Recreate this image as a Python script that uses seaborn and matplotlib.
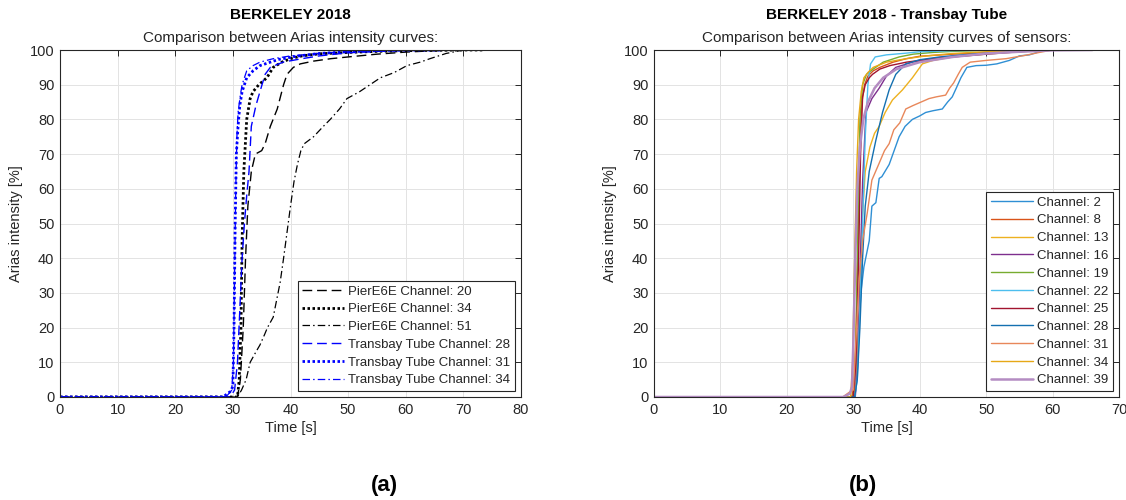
import pandas as pd
import matplotlib.pyplot as plt
import seaborn as sns

# ---------------- data ----------------
# (a) PierE6E vs Transbay Tube
pier20_t = [0, 30.8, 31.3, 31.8, 32.2, 32.6, 33.2, 33.9, 35.0, 35.6, 36.5, 37.7, 38.8, 39.4, 40.5, 41.7, 44, 47, 50, 55, 60, 65, 70]
pier20_p = [0, 0, 5, 20, 40, 55, 65, 70, 71, 73, 78, 83, 90, 93, 95, 96, 96.8, 97.5, 98, 98.8, 99.4, 99.8, 100]

pier34_t = [0, 30.8, 31.1, 31.4, 31.6, 31.9, 32.4, 33.0, 33.5, 34.5, 35.9, 37.0, 38.5, 40, 42, 45, 50, 55, 60, 65, 70, 73.4]
pier34_p = [0, 0, 5, 20, 45, 65, 80, 86, 88, 90, 92, 95, 96.5, 97.5, 98.3, 98.9, 99.3, 99.6, 99.8, 99.9, 100, 100]

pier51_t = [0, 30.8, 31.5, 32.3, 33.0, 34.0, 34.7, 35.5, 36.0, 37.0, 37.6, 38.2, 38.8, 39.2, 39.6, 40.0, 40.6,
            41.2, 41.8, 42.4, 44.0, 45.7, 46.9, 48.5, 49.8, 52.0, 53.8, 55.6, 58, 60.2, 62.5, 64.2, 67, 70]
pier51_p = [0, 0, 2, 5, 10, 13, 15, 18, 20, 23, 28, 33, 40, 45, 50, 55, 62,
            67, 71, 73, 75, 78, 80, 83, 86, 88, 90, 92, 93.5, 95.5, 96.5, 97.5, 99, 100]

tube28_t = [0, 29.5, 30.3, 30.8, 31.2, 31.6, 32.0, 32.4, 32.8, 33.2, 34.0, 34.7, 35.6, 36.5, 38.7, 42, 45, 50, 55, 60, 66]
tube28_p = [0, 0, 2, 10, 25, 40, 50, 58, 65, 78, 84, 88, 93, 95, 96.5, 97.5, 98.3, 99.2, 99.6, 99.9, 100]

tube31_t = [0, 28.3, 29.5, 30.0, 30.2, 30.4, 30.6, 30.9, 31.2, 31.6, 32.4, 33.5, 34.7, 36.5, 38.0, 41, 45, 50, 55, 60, 66]
tube31_p = [0, 0, 1.5, 3, 20, 50, 70, 78, 84, 88, 92, 94, 95.5, 96.5, 97.3, 98.2, 99, 99.5, 99.8, 100, 100]

tube34_t = [0, 28.8, 29.8, 30.1, 30.3, 30.5, 30.7, 30.9, 31.3, 31.6, 32.4, 33.5, 34.7, 37, 40, 45, 50, 55, 60, 65]
tube34_p = [0, 0, 2, 10, 35, 60, 75, 82, 87, 90, 94, 95.5, 96.5, 97.5, 98.3, 99, 99.5, 99.8, 100, 100]

left_labels = ["PierE6E Channel: 20", "PierE6E Channel: 34", "PierE6E Channel: 51",
               "Transbay Tube Channel: 28", "Transbay Tube Channel: 31", "Transbay Tube Channel: 34"]

# (b) Transbay Tube sensors
ch2_t = [0, 29.5, 30.0, 30.3, 30.6, 31.2, 31.6, 32.4, 32.8, 33.4, 33.9, 34.3, 35.4, 36.9, 37.8, 38.9, 40.0, 40.9,
         42.0, 43.4, 44.2, 44.9, 45.5, 46.2, 47.1, 48.5, 50.0, 51.6, 53.5, 55.0, 56.5, 57.5, 58.7, 62, 66]
ch2_p = [0, 0, 0.5, 1, 14, 31, 37.5, 45, 55, 56, 63, 63.5, 67, 75, 78, 80, 81, 82,
         82.5, 83, 85, 86.5, 89, 92, 95, 95.5, 95.6, 96, 97, 98.3, 98.6, 99.2, 100, 100, 100]

ch8_t = [0, 29.8, 30.2, 30.5, 30.8, 31.0, 31.3, 31.7, 32.2, 33, 34, 36, 38, 40, 45, 50, 55, 60, 63]
ch8_p = [0, 0, 5, 25, 55, 75, 85, 90, 92.5, 94, 95, 96.5, 97.5, 98.2, 98.8, 99.3, 99.7, 100, 100]

ch13_t = [0, 30.0, 30.5, 30.9, 31.3, 31.8, 32.5, 33.2, 33.9, 34.8, 35.9, 37.4, 38.9, 40.4, 42, 45, 50, 55, 60, 64]
ch13_p = [0, 0, 5, 25, 50, 65, 72, 76, 78, 82, 85.6, 88.5, 92, 96, 97, 98, 98.8, 99.5, 100, 100]

ch16_t = [0, 30.3, 30.7, 31.0, 31.4, 31.9, 32.8, 33.9, 35.0, 36.4, 38.9, 42, 45, 50, 55, 60, 64]
ch16_p = [0, 0, 10, 35, 62, 82, 86, 89, 92.5, 95, 96.5, 97.3, 98, 98.8, 99.5, 100, 100]

ch19_t = [0, 30.0, 30.4, 30.7, 31.0, 31.4, 32.0, 33.0, 34.5, 36.9, 39, 42, 45, 50, 55, 62]
ch19_p = [0, 0, 15, 50, 80, 90, 93, 94.5, 96.5, 98, 98.8, 99.3, 99.6, 99.9, 100, 100]

ch22_t = [0, 30.2, 30.6, 31.0, 31.4, 31.8, 32.2, 32.6, 33.3, 35, 38, 40, 45, 50, 55]
ch22_p = [0, 0, 5, 25, 50, 75, 90, 96, 98, 98.6, 99.1, 99.5, 99.8, 100, 100]

ch25_t = [0, 30.0, 30.4, 30.8, 31.1, 31.4, 31.8, 32.4, 32.9, 34, 35.5, 38, 40, 43, 47, 50, 55, 60, 65]
ch25_p = [0, 0, 10, 40, 70, 86.5, 90, 92, 93, 94.5, 95.5, 96.5, 97, 97.8, 98.5, 99, 99.6, 100, 100]

ch28_t = [0, 30.2, 30.6, 31.0, 31.4, 31.8, 32.4, 33.4, 34.4, 35.4, 36.4, 37.9, 40, 43, 47, 50, 55, 60, 65]
ch28_p = [0, 0, 5, 20, 40, 55, 65, 74, 82, 88.5, 93, 96, 97.2, 98, 98.7, 99.2, 99.6, 100, 100]

ch31_t = [0, 28.4, 29.5, 30.0, 30.5, 30.9, 31.4, 32.1, 32.8, 33.9, 34.7, 35.4, 36.1, 37.0, 37.9, 39.0, 40.2,
          41.4, 42.5, 43.9, 44.5, 45.1, 45.8, 46.4, 47.6, 50, 53, 56, 58, 60, 64]
ch31_p = [0, 0, 1.5, 2, 20, 34, 45, 53, 62.5, 67.4, 71, 73, 77, 79, 83, 84, 85,
          86, 86.5, 87, 89, 90.5, 93, 95, 96.5, 97, 97.5, 98.5, 99.3, 100, 100]

ch34_t = [0, 29.6, 29.9, 30.2, 30.5, 30.8, 31.2, 31.6, 32.2, 33, 35, 38, 41, 45, 50, 55, 60, 64]
ch34_p = [0, 0, 10, 40, 65, 80, 88, 92, 93.5, 95, 96.5, 97.5, 98.3, 99, 99.5, 99.8, 100, 100]

ch39_t = [0, 28.5, 29.5, 29.8, 30.0, 30.3, 30.6, 31.0, 31.5, 32.2, 33.2, 34.5, 36.5, 40, 45, 50, 55, 60, 66]
ch39_p = [0, 0, 1, 3, 15, 40, 60, 72, 80, 85, 89, 92, 94.5, 96.5, 98, 99, 99.5, 99.9, 100]

right_channels = [2, 8, 13, 16, 19, 22, 25, 28, 31, 34, 39]

# ---------------- style ----------------
sns.set_theme(style="whitegrid")
plt.rcParams.update({
    "axes.edgecolor": "#262626",
    "axes.linewidth": 0.8,
    "grid.color": "#e3e3e3",
    "grid.linewidth": 0.7,
    "xtick.direction": "in",
    "ytick.direction": "in",
    "xtick.top": True,
    "ytick.right": True,
    "xtick.major.size": 4,
    "ytick.major.size": 4,
    "xtick.major.width": 0.7,
    "ytick.major.width": 0.7,
    "xtick.color": "#262626",
    "ytick.color": "#262626",
    "xtick.labelsize": 10.5,
    "ytick.labelsize": 10.5,
    "text.color": "#262626",
    "axes.labelcolor": "#262626",
})
plt.rcParams["font.family"] = ["Liberation Sans", "DejaVu Sans"]

fig = plt.figure(figsize=(11.26, 5.0), dpi=100)
ax1 = fig.add_axes([60 / 1126, 1 - 397 / 500, 461 / 1126, 347 / 500])
ax2 = fig.add_axes([654 / 1126, 1 - 397 / 500, 465 / 1126, 347 / 500])


def draw(ax, t, p, label, **kw):
    df = pd.DataFrame({"t": t, "p": p})
    sns.lineplot(data=df, x="t", y="p", ax=ax, label=label, estimator=None, sort=False, **kw)


dash = (0, (7, 3.5))
dot = (0, (0.9, 0.9))
dashdot = (0, (6, 2.5, 1.2, 2.5))

# ---------------- (a) ----------------
left_series = [(pier20_t, pier20_p, "black", dash, 1.0),
               (pier34_t, pier34_p, "black", dot, 2.0),
               (pier51_t, pier51_p, "black", dashdot, 0.9),
               (tube28_t, tube28_p, "#0000ff", dash, 1.0),
               (tube31_t, tube31_p, "#0000ff", dot, 2.0),
               (tube34_t, tube34_p, "#0000ff", dashdot, 0.9)]
for (t, p, c, ls, lw), lab in zip(left_series, left_labels):
    draw(ax1, t, p, lab, color=c, linestyle=ls, linewidth=lw)

ax1.set_xlim(0, 80)
ax1.set_xticks(range(0, 81, 10))

# ---------------- (b) ----------------
right_data = [(ch2_t, ch2_p), (ch8_t, ch8_p), (ch13_t, ch13_p), (ch16_t, ch16_p), (ch19_t, ch19_p),
              (ch22_t, ch22_p), (ch25_t, ch25_p), (ch28_t, ch28_p), (ch31_t, ch31_p), (ch34_t, ch34_p),
              (ch39_t, ch39_p)]
right_colors = ["#2f8fd4", "#d95319", "#edb120", "#7e2f8e", "#77ac30", "#4dbeee",
                "#a2142f", "#1470b0", "#e8875a", "#e6a817", "#b48cc2"]
for (t, p), ch, c in zip(right_data, right_channels, right_colors):
    lw = 1.8 if ch == 39 else 1.0
    draw(ax2, t, p, f"Channel: {ch}", color=c, linewidth=lw)

ax2.set_xlim(0, 70)
ax2.set_xticks(range(0, 71, 10))

for ax in (ax1, ax2):
    ax.set_ylim(0, 100)
    ax.set_yticks(range(0, 101, 10))
    ax.set_xlabel("Time [s]", fontsize=10.5, labelpad=3)
    ax.set_ylabel("Arias intensity [%]", fontsize=10.5, labelpad=5)
    ax.tick_params(pad=4)
    for s in ax.spines.values():
        s.set_visible(True)
    leg = ax.legend(loc="lower right", fontsize=9.5, frameon=True, fancybox=False,
                    framealpha=1, edgecolor="#262626", handlelength=3.2, labelspacing=0.42,
                    borderaxespad=0.45, borderpad=0.35, handletextpad=0.3)
    leg.get_frame().set_linewidth(0.8)

ax1.text(0.5, 1.10, "BERKELEY 2018", transform=ax1.transAxes, ha="center", va="center",
         fontsize=11, fontweight="bold", color="black")
ax1.text(0.5, 1.035, "Comparison between Arias intensity curves:", transform=ax1.transAxes,
         ha="center", va="center", fontsize=11)
ax2.text(0.5, 1.10, "BERKELEY 2018 - Transbay Tube", transform=ax2.transAxes, ha="center", va="center",
         fontsize=11, fontweight="bold", color="black")
ax2.text(0.5, 1.035, "Comparison between Arias intensity curves of sensors:", transform=ax2.transAxes,
         ha="center", va="center", fontsize=11)

fig.text(384 / 1126, 1 - 486 / 500, "(a)", ha="center", va="center", fontsize=16, fontweight="bold", color="black")
fig.text(863 / 1126, 1 - 486 / 500, "(b)", ha="center", va="center", fontsize=16, fontweight="bold", color="black")

fig.savefig("out.png", dpi=100, facecolor="white")
